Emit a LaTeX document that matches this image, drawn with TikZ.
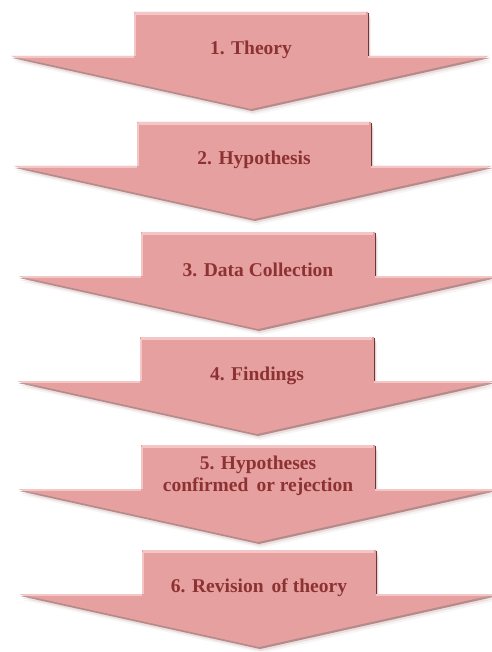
\documentclass[tikz,border=0pt]{standalone}
\usepackage{fontspec}
\setmainfont{Liberation Serif}
\definecolor{arrowfill}{HTML}{E6A0A0}
\definecolor{arrowlight}{HTML}{F4C6C6}
\definecolor{arrowedge}{HTML}{8A4545}
\definecolor{labeltext}{HTML}{8C3232}
\tikzset{
  steplabel/.style={font=\bfseries\fontsize{19.5}{22}\selectfont, text=labeltext, align=center, inner sep=0pt},
  arrowbody/.style={fill=arrowfill, draw=none},
}
% down-arrow block: #1 = centre x, #2 = top y
\newcommand{\downarrowpath}[2]{({#1-117},{#2}) -- ({#1+117},{#2}) -- ({#1+117},{#2+44}) -- ({#1+238},{#2+44}) -- ({#1},{#2+97}) -- ({#1-240},{#2+44}) -- ({#1-117},{#2+44}) -- cycle}
\begin{document}
\begin{tikzpicture}[x=1pt,y=-1pt]
\useasboundingbox[fill=white] (0,0) rectangle (491,652);
\foreach \cx/\t/\ty/\n/\txt in {
  251/12/38/s1/{1. Theory},
  254/122/38/s2/{2. Hypothesis},
  258/232/38/s3/{3. Data Collection},
  257/337/39/s4/{4. Findings},
  258/445/31/s5/{5. Hypotheses\\confirmed\, or rejection},
  259/550/38/s6/{6. Revision\, of theory}}{
  % soft shadow below and to the right
  \foreach \dx/\dy/\op in {3/6/0.06, 2/4/0.12, 1/2/0.55}{
    \begin{scope}[shift={(\dx,\dy)}]
      \fill[arrowedge, opacity=\op] \downarrowpath{\cx}{\t};
    \end{scope}
  }
  \fill[arrowbody] \downarrowpath{\cx}{\t};
  % bevel highlights on the upper edges
  \draw[arrowlight, line width=2.5pt] ({\cx-116},{\t+1.5}) -- ({\cx+115},{\t+1.5});
  \draw[arrowlight, line width=2pt] ({\cx-116},{\t+1.5}) -- ({\cx-116},{\t+44});
  \draw[arrowlight, line width=2pt] ({\cx-236},{\t+45.2}) -- ({\cx-117},{\t+45.2});
  \draw[arrowlight, line width=2pt] ({\cx+117},{\t+45.2}) -- ({\cx+234},{\t+45.2});
  % darker right side of the shaft
  \draw[arrowedge!80!black, line width=1.6pt] ({\cx+117.5},{\t+1}) -- ({\cx+117.5},{\t+44});
  \node[steplabel] (\n) at (\cx,\t+\ty) {\txt};
}
\end{tikzpicture}
\end{document}
